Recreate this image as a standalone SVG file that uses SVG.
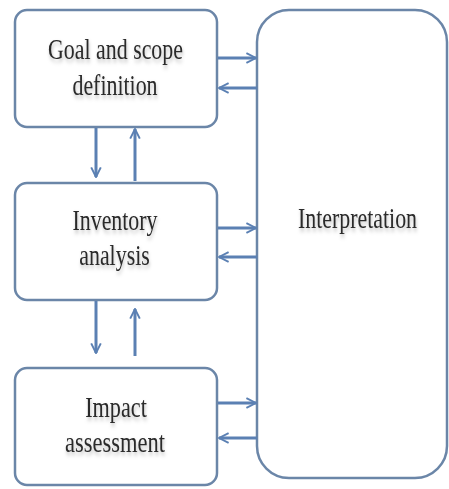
<svg xmlns="http://www.w3.org/2000/svg" width="449" height="489" viewBox="0 0 449 489">
<defs>
<marker id="ah" viewBox="0 0 10 10" refX="9" refY="5" markerWidth="4" markerHeight="4" orient="auto" markerUnits="strokeWidth">
<path d="M1,1 L9,5 L1,9" fill="none" stroke="#5b80b3" stroke-width="1.6"/>
</marker>
<filter id="sh" x="-20%" y="-40%" width="140%" height="200%">
<feDropShadow dx="1" dy="3" stdDeviation="2" flood-color="#000" flood-opacity="0.25"/>
</filter>
</defs>
<style>
.box{fill:#fff;stroke:#6b86a8;stroke-width:2.5}
.t{font-family:"Liberation Serif","Times New Roman",serif;font-size:30px;fill:#2a2a2a;text-anchor:middle;filter:url(#sh)}
.c{stroke:#5b80b3;stroke-width:3;fill:none;marker-end:url(#ah)}
</style>
<rect width="449" height="489" fill="#fff"/>
<g id="interpretation">
<rect class="box" x="257" y="10" width="190" height="468" rx="32"/>
<text class="t" transform="translate(357.5,228) scale(0.73,1)">Interpretation</text>
</g>
<g id="goal">
<rect class="box" x="15" y="10" width="202" height="117" rx="12"/>
<text class="t" transform="translate(115.5,59) scale(0.73,1)">Goal and scope</text>
<text class="t" transform="translate(115,95) scale(0.73,1)">definition</text>
</g>
<g id="inventory">
<rect class="box" x="15" y="183" width="202" height="117" rx="12"/>
<text class="t" transform="translate(115,230) scale(0.73,1)">Inventory</text>
<text class="t" transform="translate(114.5,265) scale(0.73,1)">analysis</text>
</g>
<g id="impact">
<rect class="box" x="15" y="368" width="202" height="117" rx="12"/>
<text class="t" transform="translate(116,417) scale(0.74,1)">Impact</text>
<text class="t" transform="translate(115,452) scale(0.75,1)">assessment</text>
</g>
<g id="connectors">
<line class="c" x1="218" y1="58" x2="256" y2="58"/>
<line class="c" x1="257" y1="88" x2="219" y2="88"/>
<line class="c" x1="218" y1="228" x2="256" y2="228"/>
<line class="c" x1="257" y1="257" x2="219" y2="257"/>
<line class="c" x1="218" y1="403" x2="256" y2="403"/>
<line class="c" x1="257" y1="438" x2="219" y2="438"/>
<line class="c" x1="96" y1="128" x2="96" y2="177"/>
<line class="c" x1="135" y1="181" x2="135" y2="129"/>
<line class="c" x1="96" y1="301" x2="96" y2="353"/>
<line class="c" x1="135" y1="356" x2="135" y2="309"/>
</g>
</svg>
